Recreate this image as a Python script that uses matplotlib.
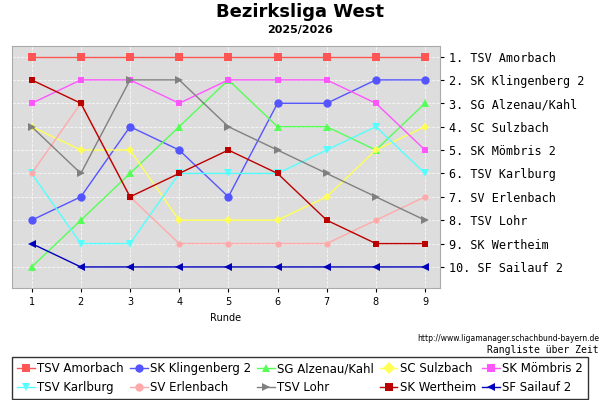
import matplotlib.pyplot as plt
from matplotlib.lines import Line2D

rounds = [1, 2, 3, 4, 5, 6, 7, 8, 9]
teams = ["TSV Amorbach", "SK Klingenberg 2", "SG Alzenau/Kahl", "SC Sulzbach", "SK Mömbris 2",
         "TSV Karlburg", "SV Erlenbach", "TSV Lohr", "SK Wertheim", "SF Sailauf 2"]
ranks = [
    [1, 1, 1, 1, 1, 1, 1, 1, 1],
    [8, 7, 4, 5, 7, 3, 3, 2, 2],
    [10, 8, 6, 4, 2, 4, 4, 5, 3],
    [4, 5, 5, 8, 8, 8, 7, 5, 4],
    [3, 2, 2, 3, 2, 2, 2, 3, 5],
    [6, 9, 9, 6, 6, 6, 5, 4, 6],
    [6, 3, 7, 9, 9, 9, 9, 8, 7],
    [4, 6, 2, 2, 4, 5, 6, 7, 8],
    [2, 3, 7, 6, 5, 6, 8, 9, 9],
    [9, 10, 10, 10, 10, 10, 10, 10, 10],
]
final_labels = ["1. TSV Amorbach", "2. SK Klingenberg 2", "3. SG Alzenau/Kahl", "4. SC Sulzbach",
                "5. SK Mömbris 2", "6. TSV Karlburg", "7. SV Erlenbach", "8. TSV Lohr",
                "9. SK Wertheim", "10. SF Sailauf 2"]
colors = ["#ff5555", "#5555ff", "#55ff55", "#ffff55", "#ff55ff",
          "#55ffff", "#ffaaaa", "#808080", "#bb0000", "#0000bb"]
markers = ["s", "o", "^", "D", "s", "v", "o", ">", "s", "<"]
sizes = [5.5, 6, 6, 4.5, 4.5, 6, 4.5, 6, 4, 6]

fig = plt.figure(figsize=(6, 4), dpi=100)
ax = fig.add_axes([0.02, 0.28, 0.713, 0.605])
ax.set_facecolor("#dddddd")
for i, t in enumerate(teams):
    ax.plot(rounds, ranks[i], color=colors[i], lw=1, marker=markers[i], ms=sizes[i],
            markeredgewidth=0, label=t)
ax.set_xlim(0.6, 9.3)
ax.set_ylim(10.9, 0.55)
ax.set_xticks(rounds)
ax.set_yticks(range(1, 11))
ax.yaxis.tick_right()
ax.set_yticklabels(final_labels, family="DejaVu Sans Mono", fontsize=8.5)
ax.tick_params(axis="x", labelsize=7, length=3)
ax.tick_params(axis="y", length=3)
ax.grid(color="white", ls="--", lw=0.6, alpha=0.8)
for s in ax.spines.values():
    s.set_color("#aaaaaa")
ax.set_xlabel("Runde", fontsize=7)

fig.text(0.5, 0.97, "Bezirksliga West", ha="center", va="center", fontsize=13, weight="bold")
fig.text(0.5, 0.925, "2025/2026", ha="center", va="center", fontsize=8, weight="bold")
fig.text(0.998, 0.148, "http://www.ligamanager.schachbund-bayern.de", ha="right", fontsize=5.5)
fig.text(0.998, 0.118, "Rangliste über Zeit", ha="right", fontsize=7, family="DejaVu Sans Mono")

handles = [Line2D([0], [0], color=colors[i], marker=markers[i], ms=6, markeredgewidth=0, lw=1)
           for i in range(len(teams))]
# matplotlib fills columns first; reorder so rows read like the reference
order = [0, 5, 1, 6, 2, 7, 3, 8, 4, 9]
fig.legend([handles[i] for i in order], [teams[i] for i in order], loc="lower center",
           bbox_to_anchor=(0.5, 0.0), ncol=5, fontsize=8.5, frameon=True, fancybox=False,
           edgecolor="black", handlelength=1.5, handletextpad=0.2, columnspacing=0.5,
           borderpad=0.4, borderaxespad=0.1)
fig.savefig("out.png", dpi=100)
